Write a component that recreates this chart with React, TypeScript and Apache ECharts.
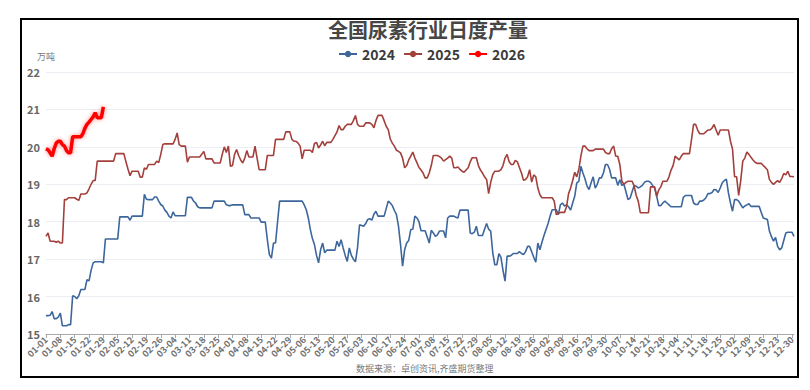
import React, { useEffect, useRef } from "react";
import * as echarts from "echarts";

const titleText = "全国尿素行业日度产量";
const unitText = "万吨";
const sourceText = "数据来源：卓创资讯,齐盛期货整理";
const seriesNames = ["2024", "2025", "2026"];
const seriesColors = ["#3d679c", "#a3403c", "#ff0000"];
const yMin = 15;
const yMax = 22;

const values2024 = [
  15.49, 15.49, 15.5, 15.6, 15.41, 15.41, 15.45, 15.56, 15.22, 15.22,
  15.22, 15.25, 15.25, 16.02, 16.0, 15.94, 16.02, 16.19, 16.19, 16.19,
  16.45, 16.42, 16.7, 16.9, 16.93, 16.93, 16.93, 16.93, 16.9, 17.54,
  17.54, 17.54, 17.54, 17.54, 17.54, 17.54, 18.13, 18.13, 18.13, 18.13,
  18.13, 18.04, 18.15, 18.15, 18.15, 18.15, 18.15, 18.15, 18.73, 18.6,
  18.59, 18.59, 18.59, 18.66, 18.66, 18.55, 18.46, 18.42, 18.31, 18.25,
  18.15, 18.1, 18.26, 18.16, 18.16, 18.16, 18.16, 18.16, 18.16, 18.65,
  18.65, 18.65, 18.55, 18.5, 18.4, 18.37, 18.37, 18.37, 18.37, 18.37,
  18.37, 18.37, 18.55, 18.55, 18.55, 18.55, 18.55, 18.55, 18.45, 18.43,
  18.43, 18.45, 18.45, 18.45, 18.45, 18.45, 18.45, 18.19, 18.19, 18.19,
  18.1, 18.1, 18.1, 18.1, 18.1, 17.99, 17.99, 17.99, 17.52, 17.12,
  17.03, 17.43, 17.43, 18.0, 18.55, 18.55, 18.55, 18.55, 18.55, 18.55,
  18.55, 18.55, 18.55, 18.55, 18.55, 18.55, 18.45, 18.32, 18.1, 17.79,
  17.55, 17.39, 17.1, 16.9, 17.25, 17.43, 17.17, 17.24, 17.24, 17.24,
  17.24, 17.24, 17.48, 17.34, 17.52, 17.3, 17.1, 16.94, 17.3, 17.1,
  17.0, 16.93, 17.3, 17.92, 17.9, 17.88, 17.95, 18.06, 18.08, 18.04,
  18.2, 18.28, 18.15, 18.15, 18.15, 18.15, 18.35, 18.55, 18.5, 18.43,
  18.3, 18.19, 17.88, 17.39, 16.81, 17.25, 17.43, 17.5, 17.79, 17.8,
  18.15, 18.1, 18.0, 17.76, 17.76, 17.76, 17.6, 17.43, 17.77, 17.7, 17.61,
  17.65, 17.75, 17.75, 17.75, 17.57, 18.1, 18.15, 18.15, 18.15, 18.12,
  18.1, 18.31, 18.31, 18.31, 18.31, 18.31, 17.7, 17.68, 17.72, 17.88,
  17.63, 17.63, 17.63, 17.8, 17.95, 17.8, 17.75, 17.17, 16.85, 16.85,
  17.15, 17.05, 16.7, 16.41, 17.08, 17.08, 17.1, 17.15, 17.15, 17.15,
  17.2, 17.15, 17.12, 17.2, 17.34, 17.34, 17.2, 17.05, 16.92, 17.43,
  17.25, 17.45, 17.63, 17.79, 17.95, 18.15, 18.32, 18.32, 18.32, 18.19,
  18.45, 18.5, 18.42, 18.45, 18.4, 18.31, 18.5, 18.68, 19.04, 19.08,
  19.48, 19.3, 19.15, 18.95, 18.86, 19.04, 19.2, 18.9, 19.0, 19.17,
  19.17, 19.3, 19.53, 19.53, 19.4, 19.17, 19.17, 19.17, 18.97, 19.12,
  18.97, 19.0, 18.8, 18.59, 18.63, 18.8, 18.97, 18.95, 18.9, 18.93,
  18.97, 19.05, 19.08, 19.08, 19.05, 18.97, 18.9, 18.68, 18.43, 18.43,
  18.5, 18.55, 18.5, 18.45, 18.4, 18.4, 18.4, 18.4, 18.4, 18.4,
  18.65, 18.7, 18.7, 18.7, 18.7, 18.5, 18.46, 18.46, 18.55, 18.55,
  18.58, 18.64, 18.75, 18.75, 18.78, 18.86, 18.85, 18.78, 18.9, 19.04,
  19.1, 19.14, 18.77, 18.5, 18.28, 18.59, 18.59, 18.55, 18.46, 18.37,
  18.42, 18.45, 18.48, 18.41, 18.41, 18.41, 18.41, 18.41, 18.25, 18.1,
  18.08, 18.06, 17.75, 17.6, 17.48, 17.58, 17.34, 17.25, 17.3, 17.5,
  17.7, 17.72, 17.72, 17.72, 17.61,
];

const values2025 = [
  17.61, 17.7, 17.48, 17.48, 17.48, 17.45, 17.48, 17.43, 17.43, 18.59,
  18.59, 18.64, 18.64, 18.64, 18.64, 18.6, 18.57, 18.74, 18.74, 18.74,
  18.77, 18.88, 19.0, 19.1, 19.1, 19.62, 19.62, 19.62, 19.62, 19.62,
  19.62, 19.62, 19.62, 19.62, 19.82, 19.82, 19.82, 19.82, 19.82, 19.6,
  19.41, 19.23, 19.35, 19.35, 19.35, 19.35, 19.19, 19.19, 19.44, 19.4,
  19.53, 19.53, 19.53, 19.53, 19.62, 19.58, 19.8, 20.06, 20.08, 20.08,
  20.08, 20.08, 20.08, 20.2, 20.37, 20.06, 20.02, 20.02, 20.02, 19.59,
  19.73, 19.73, 19.73, 19.73, 19.73, 19.73, 19.8, 19.88, 19.68, 19.68,
  19.68, 19.68, 19.57, 19.57, 19.57, 19.57, 19.8, 20.0, 19.85, 20.02,
  19.48, 19.5, 19.8, 19.93, 19.77, 19.65, 19.57, 19.7, 19.9, 19.73,
  19.73, 19.73, 20.02, 19.7, 19.39, 19.39, 19.39, 19.39, 19.77, 19.77,
  19.77, 19.77, 20.2, 20.2, 20.2, 20.2, 20.2, 20.4, 20.4, 20.4,
  20.2, 20.15, 20.15, 20.1, 20.02, 19.68, 19.91, 19.91, 19.91, 19.91,
  19.85, 20.09, 20.12, 19.97, 20.05, 20.15, 20.03, 20.12, 20.12, 20.12,
  20.2, 20.3, 20.4, 20.57, 20.46, 20.46, 20.55, 20.6, 20.6, 20.6,
  20.7, 20.84, 20.6, 20.55, 20.55, 20.55, 20.64, 20.64, 20.64, 20.6,
  20.51, 20.7, 20.84, 20.84, 20.84, 20.7, 20.55, 20.46, 20.21, 20.1,
  20.02, 19.91, 19.88, 19.84, 19.7, 19.44, 19.5, 19.65, 19.75, 19.86,
  19.7, 19.58, 19.45, 19.38, 19.3, 19.17, 19.17, 19.3, 19.5, 19.77, 19.77,
  19.77, 19.74, 19.7, 19.62, 19.66, 19.7, 19.75, 19.7, 19.44, 19.44,
  19.46, 19.4, 19.35, 19.32, 19.38, 19.44, 19.6, 19.71, 19.71, 19.71,
  19.5, 19.38, 19.3, 19.2, 19.13, 18.75, 19.05, 19.26, 19.35, 19.35,
  19.35, 19.39, 19.5, 19.7, 19.8, 19.6, 19.53, 19.53, 19.64, 19.6,
  19.45, 19.3, 19.11, 19.13, 19.2, 19.39, 19.06, 19.25, 19.2, 18.9,
  18.72, 18.64, 18.64, 18.64, 18.64, 18.64, 18.64, 18.55, 18.19, 18.22,
  18.25, 18.25, 18.25, 18.4, 18.75, 18.9, 19.1, 19.32, 19.2, 19.4,
  19.75, 20.02, 20.02, 19.95, 19.9, 19.9, 19.9, 19.94, 19.94, 19.94,
  19.94, 19.94, 19.85, 19.82, 19.82, 19.95, 20.02, 19.75, 19.75, 19.53,
  19.08, 19.0, 19.05, 19.08, 19.08, 19.08, 18.95, 18.7, 18.55, 18.24,
  18.24, 18.24, 18.24, 18.24, 18.93, 18.93, 18.93, 18.68, 18.85, 18.93,
  19.08, 19.08, 19.08, 19.2, 19.38, 19.5, 19.75, 19.7, 19.65, 19.75,
  19.82, 19.82, 19.82, 19.82, 20.2, 20.6, 20.6, 20.45, 20.35, 20.35,
  20.35, 20.4, 20.45, 20.45, 20.5, 20.6, 20.45, 20.31, 20.45, 20.45,
  20.45, 20.45, 20.45, 20.15, 19.94, 19.2, 19.2, 18.7, 19.1, 19.62,
  19.7, 19.86, 19.8, 19.72, 19.65, 19.59, 19.56, 19.56, 19.56, 19.5,
  19.45, 19.39, 19.13, 19.05, 19.0, 19.05, 19.1, 19.05, 19.15, 19.29,
  19.25, 19.35, 19.21, 19.21, 19.2,
];

const values2026 = [
  19.95, 19.92, 19.84, 19.75, 19.95, 20.1, 20.15, 20.15, 20.06, 20.02,
  19.9, 19.84, 19.84, 20.27, 20.27, 20.27, 20.27, 20.27, 20.35, 20.5,
  20.6, 20.66, 20.73, 20.8, 20.91, 20.78, 20.78, 20.78, 21.07,
];

// Category labels: every day of a leap year (01-01 .. 12-31), MM-DD
const monthLengths = [31, 29, 31, 30, 31, 30, 31, 31, 30, 31, 30, 31];
const dayLabels: string[] = [];
monthLengths.forEach((len, m) => {
  for (let d = 1; d <= len; d++) {
    dayLabels.push(String(m + 1).padStart(2, "0") + "-" + String(d).padStart(2, "0"));
  }
});

const FONT = "'Noto Sans CJK SC', 'Noto Sans', sans-serif";

export default function App() {
  const ref = useRef<HTMLDivElement>(null);
  useEffect(() => {
    if (!ref.current) return;
    const chart = echarts.init(ref.current, null, { renderer: "svg" });
    const data = [values2024, values2025, values2026];
    chart.setOption({
      animation: false,
      backgroundColor: "#ffffff",
      textStyle: { fontFamily: FONT },
      title: {
        text: titleText,
        left: 328,
        top: 19,
        padding: 0,
        textStyle: { fontFamily: FONT, fontSize: 20, fontWeight: "bold", color: "#464646" },
      },
      legend: {
        data: seriesNames,
        left: 338,
        top: 47,
        padding: 0,
        itemWidth: 18,
        itemHeight: 8,
        itemGap: 8,
        textStyle: { fontFamily: FONT, fontSize: 14, fontWeight: "bold", color: "#3a3a3a" },
      },
      grid: { left: 46, right: 16, top: 72, bottom: 56, containLabel: false },
      xAxis: {
        type: "category",
        data: dayLabels,
        boundaryGap: false,
        axisLine: { lineStyle: { color: "#a8a8a8", width: 1 } },
        axisTick: { interval: 6, length: 4, lineStyle: { color: "#a8a8a8" } },
        axisLabel: {
          interval: 6,
          rotate: 45,
          fontSize: 9,
          fontWeight: "bold",
          color: "#707070",
          margin: 4,
          fontFamily: FONT,
        },
        splitLine: { show: false },
      },
      yAxis: {
        type: "value",
        min: yMin,
        max: yMax,
        interval: 1,
        name: unitText,
        nameLocation: "end",
        nameGap: 11,
        nameTextStyle: { fontSize: 9, color: "#777777", fontFamily: FONT, align: "center" },
        axisLine: { show: false },
        axisTick: { show: false },
        axisLabel: { fontSize: 11, fontWeight: "bold", color: "#666666", margin: 6, fontFamily: FONT },
        splitLine: { lineStyle: { color: "#eceef4", width: 1 } },
      },
      series: seriesNames.map((name, i) => ({
        name,
        type: "line",
        data: data[i],
        showSymbol: false,
        symbol: "circle",
        symbolSize: 6,
        color: seriesColors[i],
        lineStyle:
          i === 2
            ? { width: 3.5, color: seriesColors[i], shadowBlur: 4, shadowColor: "rgba(255,0,0,0.45)" }
            : { width: 1.6, color: seriesColors[i] },
        z: i === 2 ? 5 : 3,
      })),
      graphic: [
        {
          type: "rect",
          shape: { x: 21, y: 19, width: 777, height: 358 },
          style: { fill: "none", stroke: "#000000", lineWidth: 2 },
          silent: true,
        },
        {
          type: "text",
          x: 356,
          y: 368,
          style: {
            text: sourceText,
            fontSize: 9,
            fill: "#7a7a7a",
            fontFamily: FONT,
            verticalAlign: "middle",
          },
          silent: true,
        },
      ],
    });
    return () => chart.dispose();
  }, []);
  return (
    <div
      ref={ref}
      style={{ position: "absolute", left: 0, top: 0, width: 810, height: 390, background: "#fff" }}
    />
  );
}
